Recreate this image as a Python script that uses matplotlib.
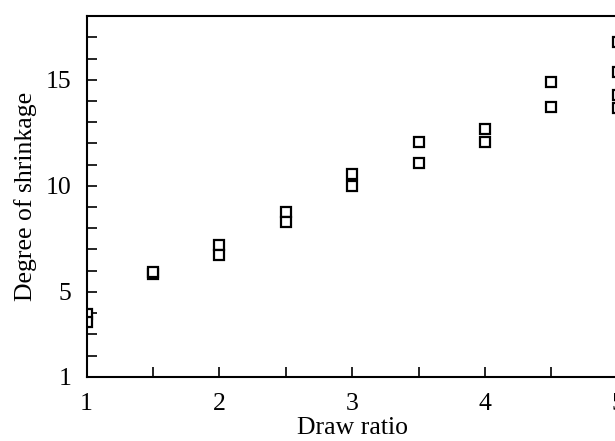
import matplotlib
matplotlib.use("Agg")
import matplotlib.pyplot as plt
import numpy as np

# Data
draw_ratio = [1.0, 1.0, 1.5, 1.5, 2.0, 2.0, 2.5, 2.5, 3.0, 3.0,
              3.5, 3.5, 4.0, 4.0, 4.5, 4.5, 5.0, 5.0, 5.0, 5.0]
shrinkage = [3.95, 3.6, 5.85, 5.92, 7.2, 6.73, 8.76, 8.28, 10.54, 10.0,
             12.07, 11.08, 12.68, 12.09, 14.88, 13.72, 16.79, 15.37, 14.29, 13.67]

x_major = [1, 2, 3, 4, 5]
x_minor = [1.5, 2.5, 3.5, 4.5]
y_major = [1, 5, 10, 15]
y_minor = [2, 3, 4, 6, 7, 8, 9, 11, 12, 13, 14, 16, 17]

plt.rcParams['font.family'] = ['Liberation Serif', 'DejaVu Serif']
plt.rcParams['mathtext.fontset'] = 'stix'

fig = plt.figure(figsize=(6.15, 4.41), dpi=100)
ax = fig.add_axes([0.1407, 0.1458, 0.8639, 0.8173])

ax.plot(draw_ratio, shrinkage, linestyle='none', marker='s', markersize=7.5,
        markerfacecolor='white', markeredgecolor='black', markeredgewidth=1.6)

ax.set_xlim(1, 5)
ax.set_ylim(1, 18)
ax.set_xticks(x_major)
ax.set_xticks(x_minor, minor=True)
ax.set_yticks(y_major)
ax.set_yticks(y_minor, minor=True)

ax.tick_params(which='both', direction='in', length=7, width=1.2, color='black',
               labelsize=18.5, top=False, right=False)
ax.tick_params(axis='x', which='major', pad=12)
ax.tick_params(axis='y', which='major', pad=11)

for side in ['left', 'bottom', 'top']:
    ax.spines[side].set_linewidth(1.5)
ax.spines['right'].set_visible(False)

ax.set_xlabel('Draw ratio', fontsize=18.5, labelpad=1)
ax.set_ylabel('Degree of shrinkage', fontsize=18.5, labelpad=6)

fig.savefig('out.png', dpi=100)
